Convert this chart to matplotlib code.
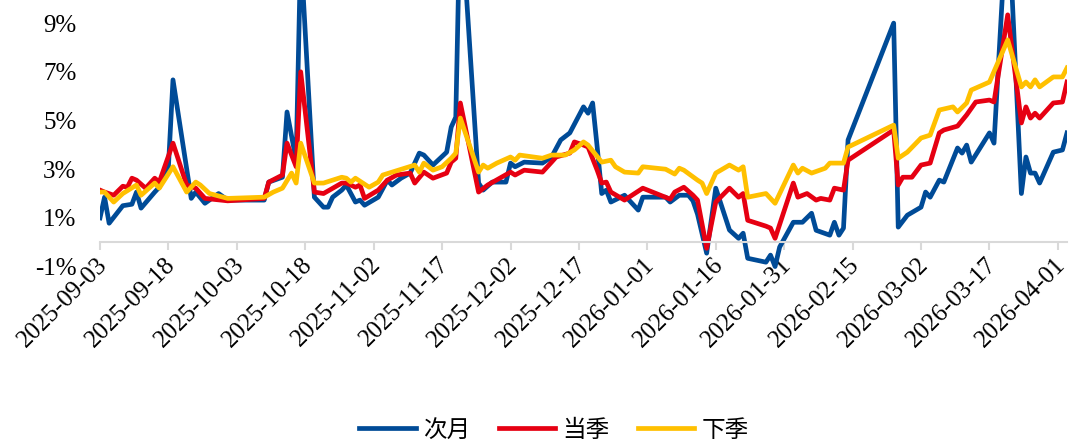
import matplotlib
matplotlib.use('Agg')
import matplotlib.pyplot as plt
import matplotlib.dates as mdates
import matplotlib.transforms as mtransforms
from matplotlib.ticker import FixedLocator, FuncFormatter
import pandas as pd

# 次月
blue_dates = ['2025-09-03', '2025-09-04', '2025-09-05', '2025-09-08', '2025-09-10', '2025-09-11',
              '2025-09-12', '2025-09-15', '2025-09-16', '2025-09-18', '2025-09-19', '2025-09-23',
              '2025-09-24', '2025-09-26', '2025-09-29', '2025-10-01', '2025-10-09', '2025-10-10',
              '2025-10-13', '2025-10-14', '2025-10-16', '2025-10-17', '2025-10-20', '2025-10-22',
              '2025-10-23', '2025-10-24', '2025-10-26', '2025-10-27', '2025-10-29', '2025-10-30',
              '2025-10-31', '2025-11-03', '2025-11-05', '2025-11-06', '2025-11-08', '2025-11-10',
              '2025-11-12', '2025-11-13', '2025-11-15', '2025-11-18', '2025-11-19', '2025-11-20',
              '2025-11-21', '2025-11-25', '2025-11-26', '2025-11-28', '2025-12-01', '2025-12-02',
              '2025-12-03', '2025-12-05', '2025-12-09', '2025-12-11', '2025-12-13', '2025-12-15',
              '2025-12-18', '2025-12-19', '2025-12-20', '2025-12-21', '2025-12-22', '2025-12-23',
              '2025-12-24', '2025-12-27', '2025-12-30', '2025-12-31', '2026-01-05', '2026-01-06',
              '2026-01-08', '2026-01-10', '2026-01-11', '2026-01-12', '2026-01-14', '2026-01-16',
              '2026-01-19', '2026-01-21', '2026-01-22', '2026-01-23', '2026-01-27', '2026-01-28',
              '2026-01-29', '2026-01-30', '2026-02-02', '2026-02-04', '2026-02-06', '2026-02-07',
              '2026-02-10', '2026-02-11', '2026-02-12', '2026-02-13', '2026-02-14', '2026-02-24',
              '2026-02-25', '2026-02-27', '2026-03-02', '2026-03-03', '2026-03-04', '2026-03-06',
              '2026-03-07', '2026-03-10', '2026-03-11', '2026-03-12', '2026-03-13', '2026-03-17',
              '2026-03-18', '2026-03-21', '2026-03-24', '2026-03-25', '2026-03-26', '2026-03-27',
              '2026-03-28', '2026-03-31', '2026-04-02', '2026-04-03']
blue_vals = [1.0, 1.85, 0.78, 1.5, 1.56, 2.06,
             1.4, 2.06, 2.26, 3.1, 6.67, 1.8,
             2.06, 1.6, 2.0, 1.73, 1.73, 2.47,
             2.67, 5.35, 3.37, 12.0, 1.85, 1.44,
             1.44, 1.85, 2.14, 2.35, 1.65, 1.73,
             1.52, 1.85, 2.55, 2.35, 2.63, 2.84,
             3.66, 3.58, 3.17, 3.7, 4.73, 5.14,
             14.0, 2.43, 2.14, 2.47, 2.47, 3.25,
             3.1, 3.29, 3.25, 3.5, 4.2, 4.49,
             5.56, 5.3, 5.72, 3.91, 2.0, 2.14,
             1.65, 1.93, 1.32, 1.85, 1.85, 1.65,
             1.93, 1.93, 1.7, 1.15, -0.45, 2.22,
             0.5, 0.16, 0.37, -0.66, -0.82, -0.53,
             -1.0, -0.2, 0.82, 0.82, 1.19, 0.49,
             0.29, 0.82, 0.29, 0.58, 4.2, 9.0,
             0.62, 1.11, 1.44, 2.06, 1.85, 2.55,
             2.47, 3.87, 3.66, 3.99, 3.29, 4.49,
             4.07, 14.0, 2.0, 3.5, 2.84, 2.84,
             2.43, 3.7, 3.79, 4.49]

# 当季
red_dates = ['2025-09-03', '2025-09-04', '2025-09-06', '2025-09-08', '2025-09-09', '2025-09-10',
             '2025-09-11', '2025-09-13', '2025-09-15', '2025-09-16', '2025-09-19', '2025-09-22',
             '2025-09-24', '2025-09-26', '2025-10-01', '2025-10-09', '2025-10-10', '2025-10-13',
             '2025-10-14', '2025-10-16', '2025-10-17', '2025-10-20', '2025-10-22', '2025-10-26',
             '2025-10-27', '2025-10-29', '2025-10-30', '2025-10-31', '2025-11-03', '2025-11-05',
             '2025-11-07', '2025-11-10', '2025-11-11', '2025-11-13', '2025-11-15', '2025-11-18',
             '2025-11-19', '2025-11-20', '2025-11-21', '2025-11-25', '2025-11-27', '2025-12-02',
             '2025-12-03', '2025-12-05', '2025-12-09', '2025-12-11', '2025-12-12', '2025-12-15',
             '2025-12-16', '2025-12-18', '2025-12-19', '2025-12-21', '2025-12-22', '2025-12-23',
             '2025-12-24', '2025-12-27', '2025-12-31', '2026-01-06', '2026-01-07', '2026-01-09',
             '2026-01-11', '2026-01-12', '2026-01-14', '2026-01-16', '2026-01-19', '2026-01-21',
             '2026-01-22', '2026-01-23', '2026-01-27', '2026-01-28', '2026-01-29', '2026-02-02',
             '2026-02-03', '2026-02-05', '2026-02-07', '2026-02-08', '2026-02-10', '2026-02-11',
             '2026-02-13', '2026-02-14', '2026-02-24', '2026-02-25', '2026-02-26', '2026-02-28',
             '2026-03-02', '2026-03-04', '2026-03-06', '2026-03-07', '2026-03-10', '2026-03-12',
             '2026-03-14', '2026-03-17', '2026-03-18', '2026-03-21', '2026-03-24', '2026-03-25',
             '2026-03-26', '2026-03-27', '2026-03-28', '2026-03-31', '2026-04-02', '2026-04-03']
red_vals = [2.14, 2.06, 1.93, 2.3, 2.26, 2.63,
            2.55, 2.22, 2.63, 2.47, 4.07, 2.35,
            2.22, 1.8, 1.7, 1.8, 2.47, 2.76,
            4.07, 3.1, 7.0, 2.06, 2.0, 2.43,
            2.43, 2.26, 2.35, 1.8, 2.14, 2.55,
            2.76, 2.84, 2.43, 2.88, 2.63, 2.84,
            3.29, 3.45, 5.72, 2.06, 2.35, 2.88,
            2.76, 2.96, 2.88, 3.29, 3.5, 3.66,
            4.12, 3.99, 3.91, 2.96, 2.43, 2.47,
            2.06, 1.73, 2.22, 1.77, 2.06, 2.26,
            1.93, 1.73, -0.25, 1.65, 2.22, 1.85,
            2.0, 0.9, 0.66, 0.58, 0.16, 2.43,
            1.85, 2.0, 1.73, 1.8, 1.73, 2.22,
            2.14, 3.37, 4.61, 2.35, 2.67, 2.67,
            3.17, 3.25, 4.49, 4.61, 4.77, 5.23,
            5.76, 5.84, 5.76, 9.34, 4.9, 5.56,
            5.1, 5.3, 5.1, 5.72, 5.76, 6.58]

# 下季
yellow_dates = ['2025-09-03', '2025-09-04', '2025-09-06', '2025-09-08', '2025-09-11', '2025-09-12',
                '2025-09-15', '2025-09-16', '2025-09-19', '2025-09-22', '2025-09-24', '2025-09-25',
                '2025-09-27', '2025-10-01', '2025-10-09', '2025-10-11', '2025-10-13', '2025-10-15',
                '2025-10-16', '2025-10-17', '2025-10-20', '2025-10-22', '2025-10-26', '2025-10-27',
                '2025-10-28', '2025-10-29', '2025-11-01', '2025-11-03', '2025-11-04', '2025-11-11',
                '2025-11-12', '2025-11-13', '2025-11-15', '2025-11-17', '2025-11-19', '2025-11-20',
                '2025-11-21', '2025-11-25', '2025-11-26', '2025-11-27', '2025-11-29', '2025-12-02',
                '2025-12-03', '2025-12-04', '2025-12-09', '2025-12-11', '2025-12-14', '2025-12-16',
                '2025-12-18', '2025-12-19', '2025-12-22', '2025-12-24', '2025-12-25', '2025-12-27',
                '2025-12-30', '2025-12-31', '2026-01-05', '2026-01-07', '2026-01-08', '2026-01-09',
                '2026-01-12', '2026-01-13', '2026-01-14', '2026-01-16', '2026-01-19', '2026-01-21',
                '2026-01-22', '2026-01-23', '2026-01-27', '2026-01-29', '2026-02-02', '2026-02-03',
                '2026-02-04', '2026-02-06', '2026-02-09', '2026-02-10', '2026-02-13', '2026-02-14',
                '2026-02-24', '2026-02-25', '2026-02-27', '2026-03-02', '2026-03-04', '2026-03-06',
                '2026-03-09', '2026-03-10', '2026-03-12', '2026-03-13', '2026-03-17', '2026-03-21',
                '2026-03-24', '2026-03-25', '2026-03-26', '2026-03-27', '2026-03-28', '2026-03-31',
                '2026-04-02', '2026-04-03']
yellow_vals = [2.06, 2.06, 1.65, 2.0, 2.35, 1.93,
               2.43, 2.22, 3.1, 2.06, 2.47, 2.35,
               2.0, 1.8, 1.85, 2.06, 2.22, 2.84,
               2.43, 4.07, 2.43, 2.43, 2.67, 2.63,
               2.47, 2.63, 2.26, 2.47, 2.76, 3.17,
               2.88, 3.25, 2.96, 3.1, 3.45, 3.66,
               5.1, 2.88, 3.17, 3.04, 3.25, 3.5,
               3.37, 3.58, 3.45, 3.58, 3.58, 3.79,
               4.12, 3.99, 3.29, 3.37, 3.1, 2.88,
               2.84, 3.1, 3.0, 2.8, 3.04, 2.96,
               2.55, 2.43, 2.0, 2.84, 3.17, 2.96,
               3.1, 1.85, 2.0, 1.6, 3.17, 2.84,
               3.04, 2.84, 3.04, 3.25, 3.25, 3.91,
               4.81, 3.45, 3.7, 4.28, 4.4, 5.43,
               5.56, 5.35, 5.72, 6.25, 6.58, 8.31,
               6.38, 6.58, 6.38, 6.67, 6.38, 6.79,
               6.79, 7.16]

tick_dates = ['2025-09-03', '2025-09-18', '2025-10-03', '2025-10-18', '2025-11-02',
              '2025-11-17', '2025-12-02', '2025-12-17', '2026-01-01', '2026-01-16',
              '2026-01-31', '2026-02-15', '2026-03-02', '2026-03-17', '2026-04-01']
y_ticks = [-1, 1, 3, 5, 7, 9]

W, H = 1069, 443
fig = plt.figure(figsize=(W / 100, H / 100), dpi=100)
ax_bottom_px = 269
ax = fig.add_axes([100 / W, 1 - ax_bottom_px / H, (1067 - 100) / W, ax_bottom_px / H])

series = [(blue_dates, blue_vals, '#004B97', '次月'),
          (red_dates, red_vals, '#E60012', '当季'),
          (yellow_dates, yellow_vals, '#FFC000', '下季')]
for d, v, c, name in series:
    ax.plot(pd.to_datetime(d), v, color=c, lw=3.4, label=name, solid_joinstyle='round')

ax.set_xlim(pd.Timestamp('2025-09-03'), pd.Timestamp('2026-04-03'))
ax.set_ylim(-1.1, 9.95)

for s in ['top', 'right', 'left']:
    ax.spines[s].set_visible(False)
ax.spines['bottom'].set_position(('data', 0))
ax.spines['bottom'].set_color('#d9d9d9')
ax.spines['bottom'].set_linewidth(1.5)

ax.xaxis.set_major_locator(FixedLocator(mdates.date2num(pd.to_datetime(tick_dates))))
ax.xaxis.set_major_formatter(mdates.DateFormatter('%Y-%m-%d'))
ax.yaxis.set_major_locator(FixedLocator(y_ticks))
ax.yaxis.set_major_formatter(FuncFormatter(lambda v, p: f'{v:.0f}%'))

serif = 'Liberation Serif'
ax.tick_params(axis='x', colors='#d9d9d9', length=6, width=1.5, direction='out', pad=2,
               labelcolor='black')
ax.tick_params(axis='y', length=0, pad=17)
shift = mtransforms.ScaledTranslation(-4 / 100, 0, fig.dpi_scale_trans)
for lab in ax.get_xticklabels():
    lab.set_fontfamily(serif)
    lab.set_fontsize(18)
    lab.set_rotation(45)
    lab.set_ha('right')
    lab.set_va('top')
    lab.set_rotation_mode('anchor')
    lab.set_transform(lab.get_transform() + shift)
for lab in ax.get_yticklabels():
    lab.set_fontfamily(serif)
    lab.set_fontsize(18)

fig.legend(loc='lower center', bbox_to_anchor=(554 / W, -0.045), ncol=3, frameon=False,
           prop={'family': ['Noto Sans CJK SC', 'DejaVu Sans'], 'size': 17},
           handlelength=2.4, handletextpad=0.3, columnspacing=1.2)

fig.savefig('out.png', dpi=100)
